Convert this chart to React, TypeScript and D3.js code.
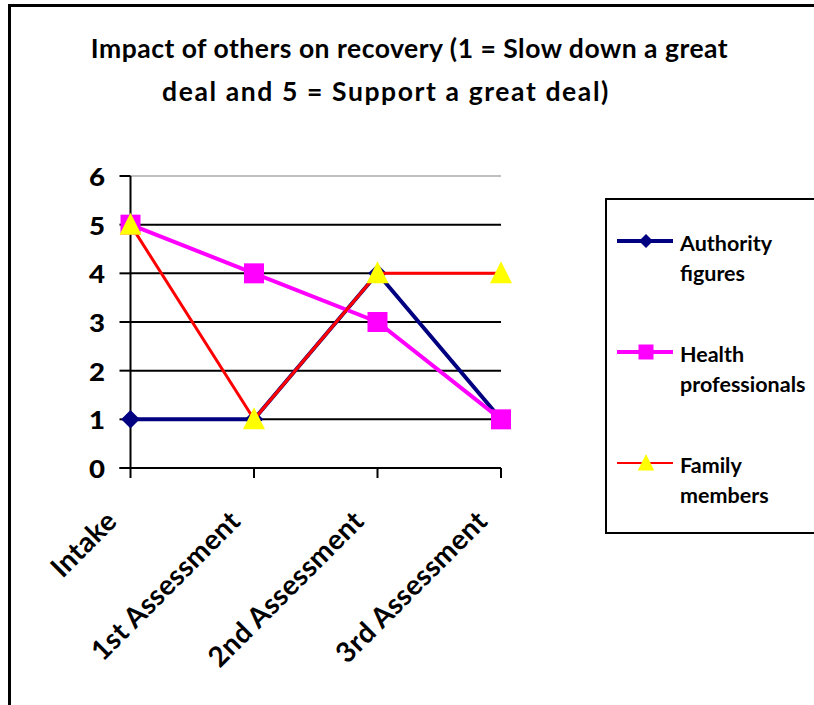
import React, { useEffect, useRef } from "react";
import * as d3 from "d3";

const categories = ["Intake", "1st Assessment", "2nd Assessment", "3rd Assessment"];
const authorityFigures = [1, 1, 4, 1];
const healthProfessionals = [5, 4, 3, 1];
const familyMembers = [5, 1, 4, 4];
const yTicks = [0, 1, 2, 3, 4, 5, 6];
const titleLines = [
  "Impact of others on recovery (1 = Slow down a great",
  "deal and 5 = Support a great deal)",
];

const FONT = "Lato, 'Open Sans', sans-serif";

type SeriesDef = {
  name: string[];
  values: number[];
  color: string;
  width: number;
  legendWidth: number;
  marker: "diamond" | "square" | "triangle";
  markerFill: string;
};

const series: SeriesDef[] = [
  { name: ["Authority", "figures"], values: authorityFigures, color: "#000080", width: 4, legendWidth: 4, marker: "diamond", markerFill: "#000080" },
  { name: ["Health", "professionals"], values: healthProfessionals, color: "#FF00FF", width: 4, legendWidth: 4, marker: "square", markerFill: "#FF00FF" },
  { name: ["Family", "members"], values: familyMembers, color: "#FF0000", width: 3, legendWidth: 2, marker: "triangle", markerFill: "#FFFF00" },
];

function markerPath(kind: string) {
  if (kind === "diamond") return d3.symbol(d3.symbolDiamond2, 220)();
  if (kind === "square") return "M-10,-10H10V10H-10Z";
  return "M0,-12L11,10H-11Z";
}

export default function App() {
  const ref = useRef<SVGSVGElement>(null);

  useEffect(() => {
    const svg = d3.select(ref.current);
    svg.selectAll("*").remove();

    const W = 814, H = 705;
    const plot = { left: 130.5, right: 501, top: 176, bottom: 468 };

    svg.append("rect").attr("x", 0).attr("y", 0).attr("width", W).attr("height", H).attr("fill", "#fff");
    // outer chart frame (runs past the right and bottom edges)
    svg.append("rect").attr("x", 9.5).attr("y", 5.5).attr("width", 900).attr("height", 800)
      .attr("fill", "none").attr("stroke", "#000").attr("stroke-width", 3);

    // title
    const titleCenters = [409.5, 386];
    const titleSpacing = [0.5, 1.6];
    titleLines.forEach((t, i) => {
      svg.append("text").attr("x", titleCenters[i]).attr("y", 58 + i * 43).attr("text-anchor", "middle")
        .attr("font-family", FONT).attr("font-weight", 700).attr("font-size", 26.5)
        .attr("letter-spacing", titleSpacing[i]).text(t);
    });

    const x = d3.scalePoint<string>().domain(categories).range([plot.left, plot.right]);
    const y = d3.scaleLinear().domain([0, 6]).range([plot.bottom, plot.top]);

    // gridlines
    yTicks.filter(v => v > 0).forEach(v => {
      svg.append("line").attr("x1", plot.left).attr("x2", plot.right).attr("y1", y(v)).attr("y2", y(v))
        .attr("stroke", v === 6 ? "#c0c0c0" : "#000").attr("stroke-width", 2);
    });

    // y axis
    svg.append("line").attr("x1", plot.left).attr("x2", plot.left).attr("y1", plot.top).attr("y2", plot.bottom)
      .attr("stroke", "#000").attr("stroke-width", 2);
    yTicks.forEach(v => {
      svg.append("line").attr("x1", plot.left - 11).attr("x2", plot.left).attr("y1", y(v)).attr("y2", y(v))
        .attr("stroke", "#000").attr("stroke-width", 2);
      svg.append("text").attr("transform", `translate(105,${y(v) + 10}) scale(1.15,1)`).attr("text-anchor", "end")
        .attr("font-family", FONT).attr("font-weight", 900).attr("font-size", 24).text(String(v));
    });

    // x axis
    svg.append("line").attr("x1", plot.left - 11).attr("x2", plot.right).attr("y1", plot.bottom).attr("y2", plot.bottom)
      .attr("stroke", "#000").attr("stroke-width", 2);
    categories.forEach(c => {
      const cx = x(c)!;
      svg.append("line").attr("x1", cx).attr("x2", cx).attr("y1", plot.bottom).attr("y2", plot.bottom + 10)
        .attr("stroke", "#000").attr("stroke-width", 2);
      svg.append("text").attr("transform", `translate(${cx - 12},${plot.bottom + 55}) rotate(-45)`)
        .attr("text-anchor", "end").attr("font-family", FONT).attr("font-weight", 700)
        .attr("font-size", 28).attr("letter-spacing", 0.3).text(c);
    });

    // series lines, then markers
    const line = d3.line<number>().x((_, i) => x(categories[i])!).y(v => y(v));
    series.forEach(s => {
      svg.append("path").attr("d", line(s.values)!).attr("fill", "none")
        .attr("stroke", s.color).attr("stroke-width", s.width).attr("stroke-linejoin", "miter");
      s.values.forEach((v, i) => {
        svg.append("path").attr("d", markerPath(s.marker))
          .attr("transform", `translate(${x(categories[i])},${y(v)})`).attr("fill", s.markerFill);
      });
    });

    // legend
    svg.append("rect").attr("x", 606).attr("y", 199).attr("width", 400).attr("height", 334)
      .attr("fill", "#fff").attr("stroke", "#000").attr("stroke-width", 2);
    series.forEach((s, i) => {
      const ly = 241 + i * 111;
      svg.append("line").attr("x1", 617).attr("x2", 673).attr("y1", ly).attr("y2", ly)
        .attr("stroke", s.color).attr("stroke-width", s.legendWidth);
      svg.append("path").attr("d", markerPath(s.marker))
        .attr("transform", `translate(646,${ly}) scale(0.75)`).attr("fill", s.markerFill);
      s.name.forEach((n, j) => {
        svg.append("text").attr("x", 680).attr("y", ly + 10 + j * 30)
          .attr("font-family", FONT).attr("font-weight", 700).attr("font-size", 21.5).text(n);
      });
    });
  }, []);

  return <svg ref={ref} width={814} height={705} style={{ position: "absolute", left: 0, top: 0 }} />;
}
